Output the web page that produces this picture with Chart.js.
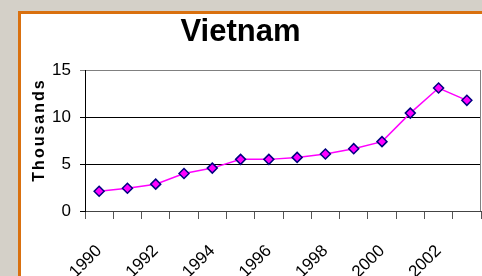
<!DOCTYPE html>
<html>
<head>
<meta charset="utf-8">
<script src="https://cdn.jsdelivr.net/npm/chart.js@4/dist/chart.umd.min.js"></script>
<style>
    html, body { margin: 0; padding: 0; overflow: hidden; }
    body { width: 482px; height: 276px; background: #d4d0c8; position: relative; }
    #panel {
        position: absolute; left: 18px; top: 11px; right: -10px; bottom: -10px;
        background: #fff; border-left: 3px solid #d9700f; border-top: 3px solid #d9700f;
    }
    #wrap { position: absolute; left: 0; top: 0; width: 482px; height: 276px; }
</style>
</head>
<body>
<div id="panel"></div>
<div id="wrap"><canvas id="chart" width="482" height="276"></canvas></div>
<script>
const years = ['1990', '1991', '1992', '1993', '1994', '1995', '1996', '1997', '1998', '1999', '2000', '2001', '2002', '2003'];
const values = [2.1, 2.43, 2.86, 4.0, 4.57, 5.5, 5.5, 5.71, 6.07, 6.64, 7.39, 10.43, 13.1, 11.79];
const yTicks = [0, 5, 10, 15];

const fontFamily = "'Liberation Sans', Arial, sans-serif";

// right border of the plot and the rotated axis caption
const framePlugin = {
    id: 'frame',
    afterDraw(chart) {
        const ctx = chart.ctx;
        const area = chart.chartArea;
        ctx.save();
        ctx.strokeStyle = '#808080';
        ctx.lineWidth = 1;
        ctx.beginPath();
        ctx.moveTo(area.right - 0.5, area.top);
        ctx.lineTo(area.right - 0.5, area.bottom);
        ctx.stroke();

        ctx.translate(40, 130);
        ctx.rotate(-Math.PI / 2);
        ctx.font = 'bold 16px ' + fontFamily;
        ctx.letterSpacing = '2px';
        ctx.fillStyle = '#000';
        ctx.textAlign = 'center';
        ctx.textBaseline = 'middle';
        ctx.fillText('Thousands', 0, 0);
        ctx.restore();
    }
};

new Chart(document.getElementById('chart'), {
    type: 'line',
    data: {
        labels: years,
        datasets: [{
            data: values,
            borderColor: '#ff00ff',
            borderWidth: 1.5,
            tension: 0,
            pointStyle: 'rectRot',
            pointRadius: 5,
            pointBackgroundColor: '#ff00ff',
            pointBorderColor: '#000080',
            pointBorderWidth: 1.5
        }]
    },
    options: {
        responsive: false,
        animation: false,
        layout: { autoPadding: false, padding: { left: 0, right: 1, top: 0, bottom: 0 } },
        plugins: {
            legend: { display: false },
            tooltip: { enabled: false },
            title: {
                display: true,
                text: 'Vietnam',
                color: '#000',
                font: { family: fontFamily, size: 31, weight: 'bold', lineHeight: 1.2 },
                padding: { top: 14, bottom: 19 }
            }
        },
        scales: {
            x: {
                offset: true,
                grid: { offset: true, drawOnChartArea: false, tickLength: 8, color: '#555' },
                border: { color: '#444', width: 1 },
                ticks: {
                    autoSkip: false,
                    minRotation: 45,
                    maxRotation: 45,
                    padding: 22,
                    color: '#000',
                    font: { family: fontFamily, size: 17 },
                    callback: function(val, index) {
                        return index % 2 === 0 ? years[index] : '';
                    }
                },
                afterFit: function(scale) {
                    scale.height = 65;
                    scale.paddingLeft = 0;
                    scale.paddingRight = 0;
                }
            },
            y: {
                min: 0,
                max: 15,
                afterBuildTicks: function(scale) {
                    scale.ticks = yTicks.map(v => ({ value: v }));
                },
                grid: {
                    tickLength: 5,
                    color: ctx => ctx.tick && ctx.tick.value === 15 ? '#808080' : '#000'
                },
                border: { color: '#000', width: 1 },
                ticks: {
                    padding: 9,
                    color: '#000',
                    font: { family: fontFamily, size: 17 }
                },
                afterFit: function(scale) { scale.width = 85; }
            }
        }
    },
    plugins: [framePlugin]
});
</script>
</body>
</html>
